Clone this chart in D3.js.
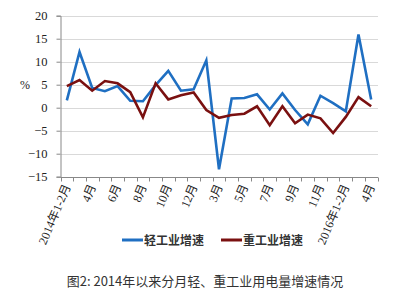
<!DOCTYPE html>
<html><head><meta charset="utf-8">
<script src="https://cdn.jsdelivr.net/npm/d3@7"></script>
<style>body{margin:0;background:#fff}</style>
</head><body><svg id="c" width="405" height="296"></svg>
<script>
const categories = ["2014年1-2月","3月","4月","5月","6月","7月","8月","9月","10月","11月","12月",
  "2015年1-2月","3月","4月","5月","6月","7月","8月","9月","10月","11月","12月",
  "2016年1-2月","3月","4月"];
const tickLabels = ["2014年1-2月","4月","6月","8月","10月","12月","3月","5月","7月","9月","11月","2016年1-2月","4月"];
const light = [1.6,12.1,4.3,3.6,4.7,1.5,1.4,4.9,8.0,3.7,4.0,10.3,-13.4,2.0,2.1,2.9,-0.4,3.1,-0.5,-3.6,2.6,1.0,-0.8,15.9,1.8];
const heavy = [4.7,6.0,3.7,5.8,5.3,3.4,-2.1,5.3,1.8,2.7,3.3,-0.5,-2.2,-1.6,-1.3,0.3,-3.8,0.3,-3.4,-1.5,-2.3,-5.5,-2.0,2.3,0.3];
const yTicks = [20,15,10,5,0,-5,-10,-15];
const seriesNames = ["轻工业增速","重工业增速"];
const colors = ["#1f6fc2","#7a1010"];

const svg = d3.select("#c");
const x = d3.scaleBand().domain(d3.range(categories.length)).range([60.5,377.5]);
const y = d3.scaleLinear().domain([-15,20]).range([176.7,15.7]);

// grid
svg.append("g").selectAll("line").data(yTicks.filter(v=>v>-15)).join("line")
  .attr("x1",61).attr("x2",378).attr("y1",d=>Math.round(y(d))+0.5).attr("y2",d=>Math.round(y(d))+0.5)
  .attr("stroke","#d9d9d9").attr("stroke-width",1);

// y axis
const ya = svg.append("g").attr("transform","translate(60.5,0)")
  .call(d3.axisLeft(y).tickValues(yTicks).tickSize(4).tickPadding(9).tickFormat(d=>d<0?"\u2212"+Math.abs(d):d));
ya.select(".domain").attr("stroke","#888");
ya.selectAll(".tick line").attr("stroke","#888");
ya.selectAll("text").attr("font-family","Liberation Serif, serif").attr("font-size",12.5).attr("fill","#222");

// x axis
const xa = svg.append("g").attr("transform",`translate(0,${Math.round(y(-15))+0.5})`);
xa.append("line").attr("x1",60.5).attr("x2",378).attr("stroke","#888");
const bounds = d3.range(categories.length+1).map(i=> i<categories.length ? x(i) : x(categories.length-1)+x.bandwidth());
xa.selectAll("line.t").data(bounds).join("line").attr("class","t")
  .attr("x1",d=>Math.round(d)+0.5).attr("x2",d=>Math.round(d)+0.5).attr("y1",0).attr("y2",4).attr("stroke","#888");
const labIdx = d3.range(0,categories.length,2);
xa.selectAll("text.lab").data(labIdx).join("text").attr("class","lab")
  .attr("transform",(d,i)=>`translate(${x(d)+x.bandwidth()/2+4},9) rotate(-67)`)
  .attr("text-anchor","end").attr("font-family","Liberation Serif, Noto Sans CJK SC, serif").attr("font-size",12).attr("fill","#222")
  .text((d,i)=>tickLabels[i]);

// % label
svg.append("text").attr("x",25).attr("y",y(5)+4).attr("text-anchor","middle")
  .attr("font-family","Liberation Serif, serif").attr("font-size",12).attr("fill","#222").text("%");

// lines
const line = d3.line().x((d,i)=>x(i)+x.bandwidth()/2).y(d=>y(d));
[light,heavy].forEach((s,k)=>{
  svg.append("path").datum(s).attr("d",line).attr("fill","none")
    .attr("stroke",colors[k]).attr("stroke-width",2.6).attr("stroke-linejoin","miter");
});

// legend
const lg = [{x:122,tx:144},{x:221,tx:243}];
lg.forEach((p,k)=>{
  svg.append("line").attr("x1",p.x).attr("x2",p.x+21).attr("y1",240).attr("y2",240)
    .attr("stroke",colors[k]).attr("stroke-width",3);
  svg.append("text").attr("x",p.tx).attr("y",244.5).attr("font-family","Noto Sans CJK SC, sans-serif")
    .attr("font-size",12).attr("font-weight","bold").attr("fill","#333").text(seriesNames[k]);
});

// title
svg.append("text").attr("x",205).attr("y",286).attr("text-anchor","middle")
  .attr("font-family","Noto Sans CJK SC, sans-serif").attr("font-size",13).attr("fill","#333")
  .text("图2: 2014年以来分月轻、重工业用电量增速情况");
</script></body></html>
